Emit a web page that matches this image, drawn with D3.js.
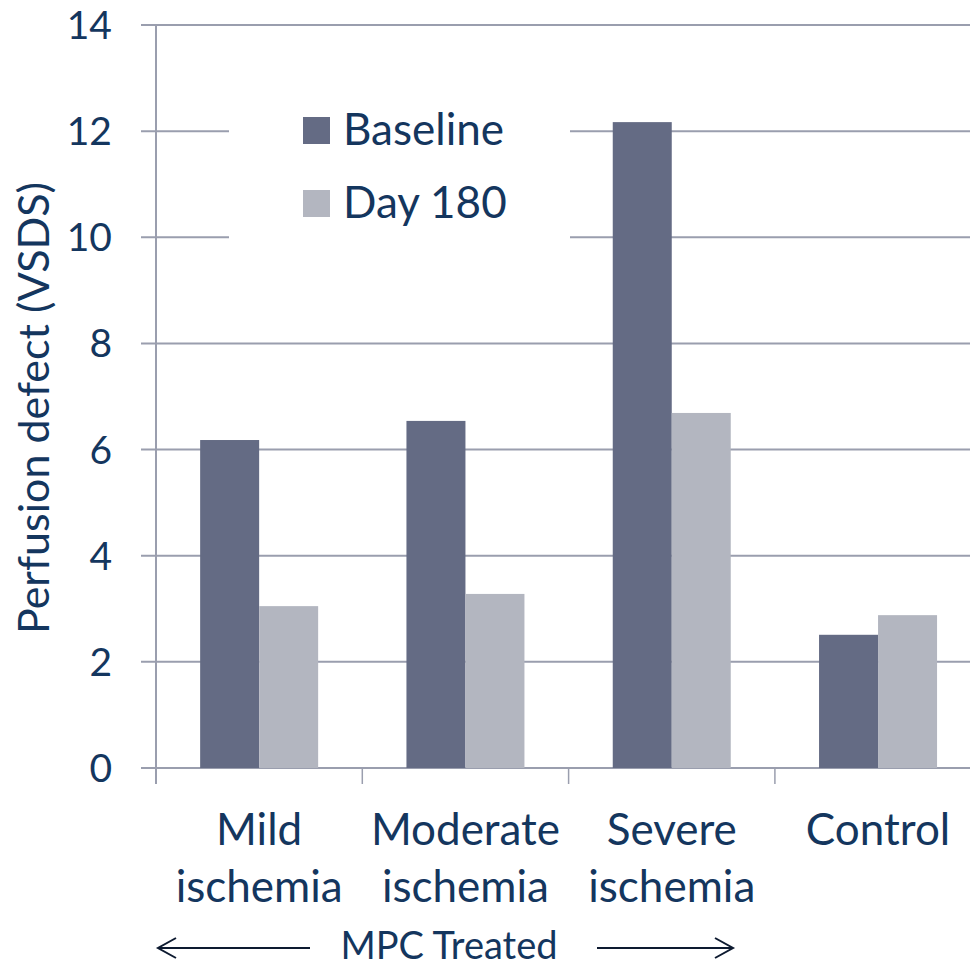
<!DOCTYPE html>
<html><head><meta charset="utf-8">
<script src="https://cdn.jsdelivr.net/npm/d3@7/dist/d3.min.js"></script>
<style>body{margin:0;background:#fff}svg{display:block}text{font-family:Lato,"Open Sans",sans-serif;fill:#14365e}</style>
</head><body>
<script>
const categories = [["Mild","ischemia"],["Moderate","ischemia"],["Severe","ischemia"],["Control"]];
const seriesNames = ["Baseline","Day 180"];
const baseline = [6.18, 6.54, 12.17, 2.51];
const day180 = [3.05, 3.28, 6.69, 2.88];
const yTicks = [0,2,4,6,8,10,12,14];
const colors = ["#646b84","#b3b6c0"];

const W=970,H=966;
const svg=d3.select("body").append("svg").attr("width",W).attr("height",H);
const x0=156, step=206.3;
const x=d3.scaleBand().domain(d3.range(4)).range([x0,x0+4*step]).paddingInner(0).paddingOuter(0);
const y=d3.scaleLinear().domain([0,14]).range([768,25]);
const inner=d3.scaleBand().domain([0,1]).range([0,118]);
const pad=(x.bandwidth()-118)/2;

svg.append("g").selectAll("line").data(yTicks.slice(1)).join("line")
  .attr("x1",141).attr("x2",W).attr("y1",d=>y(d)).attr("y2",d=>y(d))
  .attr("stroke","#9a9eae").attr("stroke-width",2);
svg.append("line").attr("x1",x0).attr("x2",x0).attr("y1",y(14)).attr("y2",y(0)+16).attr("stroke","#9a9eae").attr("stroke-width",2);
svg.append("line").attr("x1",141).attr("x2",W).attr("y1",y(0)).attr("y2",y(0)).attr("stroke","#9a9eae").attr("stroke-width",2);
svg.append("g").selectAll("line").data(d3.range(1,5)).join("line")
  .attr("x1",d=>x0+d*step).attr("x2",d=>x0+d*step).attr("y1",y(0)).attr("y2",y(0)+16)
  .attr("stroke","#9a9eae").attr("stroke-width",1.5);

svg.append("rect").attr("x",229).attr("y",95).attr("width",341).attr("height",150).attr("fill","#fff");

const data=categories.map((c,i)=>[baseline[i],day180[i]]);
const g=svg.append("g");
data.forEach((vals,i)=>{
  g.selectAll(null).data(vals).join("rect")
   .attr("x",(d,j)=>x(i)+pad+inner(j)).attr("width",inner.bandwidth())
   .attr("y",d=>y(d)).attr("height",d=>y(0)-y(d))
   .attr("fill",(d,j)=>colors[j]);
});

svg.append("g").selectAll("text").data(yTicks).join("text")
  .attr("x",112).attr("y",d=>y(d)+14).attr("text-anchor","end")
  .attr("font-size",39).text(d=>d);
svg.append("text").attr("transform","translate(49,408) rotate(-90)").attr("text-anchor","middle")
  .attr("font-size",43).text("Perfusion defect (VSDS)");

categories.forEach((c,i)=>{
  c.forEach((t,k)=>{
    svg.append("text").attr("x",x(i)+x.bandwidth()/2).attr("y",845+k*57)
      .attr("text-anchor","middle").attr("font-size",44).text(t);
  });
});

seriesNames.forEach((s,i)=>{
  svg.append("rect").attr("x",303).attr("y",117+i*73).attr("width",27).attr("height",27).attr("fill",colors[i]);
  svg.append("text").attr("x",343).attr("y",145+i*73).attr("font-size",44).text(s);
});

svg.append("text").attr("x",449).attr("y",959).attr("text-anchor","middle").attr("font-size",38).text("MPC Treated");
const ay=948;
svg.append("line").attr("x1",158).attr("x2",310).attr("y1",ay).attr("y2",ay).attr("stroke","#0d1a30").attr("stroke-width",2);
svg.append("path").attr("d",`M176,${ay-10} L158,${ay} L176,${ay+10}`).attr("fill","none").attr("stroke","#0d1a30").attr("stroke-width",2);
svg.append("line").attr("x1",597).attr("x2",733).attr("y1",ay).attr("y2",ay).attr("stroke","#0d1a30").attr("stroke-width",2);
svg.append("path").attr("d",`M715,${ay-10} L733,${ay} L715,${ay+10}`).attr("fill","none").attr("stroke","#0d1a30").attr("stroke-width",2);
</script>
</body></html>
